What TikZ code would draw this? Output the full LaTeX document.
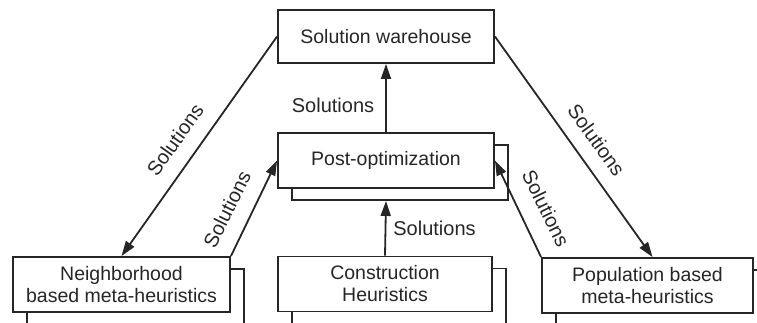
\documentclass[tikz,border=0pt]{standalone}
\usepackage{fontspec}
\setmainfont{Liberation Sans}
\usetikzlibrary{arrows.meta,shadows}
\definecolor{ink}{HTML}{262626}
\tikzset{
  box/.style={draw=ink, line width=1.9pt, fill=white, minimum width=216pt,
    minimum height=55pt, inner sep=0pt, align=center, text=ink,
    font=\fontsize{19.5}{22}\selectfont},
  stacked/.style={box, copy shadow={shadow xshift=14pt, shadow yshift=-12pt,
    draw=ink, fill=white, line width=1.3pt}},
  flow/.style={draw=ink, line width=1.8pt, -{Triangle[length=15pt,width=10pt]}},
  lbl/.style={text=ink, font=\fontsize{20}{22}\selectfont, inner sep=0pt},
}
\begin{document}
\begin{tikzpicture}[x=1pt,y=-1pt]
\useasboundingbox (0,0) rectangle (757,322);
\clip (0,0) rectangle (757,322);

% boxes
\node[box, minimum height=53pt] (WH) at (386,36.5) {Solution warehouse};
\node[stacked] (PO) at (386,160.5) {Post-optimization};
\node[stacked, minimum width=217pt] (NB) at (121.5,284.5) {Neighborhood\\based meta-heuristics};
\node[stacked, minimum width=214pt] (CH) at (385,284) {Construction\\Heuristics};
\node[stacked, minimum width=211pt] (PB) at (647.5,285.5) {Population based\\meta-heuristics};

% connectors
\coordinate (POs) at ([yshift=-12pt]PO.south);
\coordinate (PBn) at ([xshift=5pt]PB.north);
\draw[flow] (PO.north) -- (WH.south);
\draw[flow] (CH.north) -- (POs);
\draw[flow] (WH.west) -- (NB.north);
\draw[flow] (NB.north east) -- (PO.west);
\draw[flow] (WH.east) -- (PBn);
\draw[flow] (PB.north west) -- (PO.east);

% connector labels
\node[lbl] (s1) at (333,105) {Solutions};
\node[lbl] (s2) at (434.5,228) {Solutions};
\node[lbl, rotate=54.6] (s3) at (175,140) {Solutions};
\node[lbl, rotate=63.6] (s4) at (227,209) {Solutions};
\node[lbl, rotate=-54.3] (s5) at (596.5,140) {Solutions};
\node[lbl, rotate=-63.8] (s6) at (546,208.5) {Solutions};
\end{tikzpicture}
\end{document}
